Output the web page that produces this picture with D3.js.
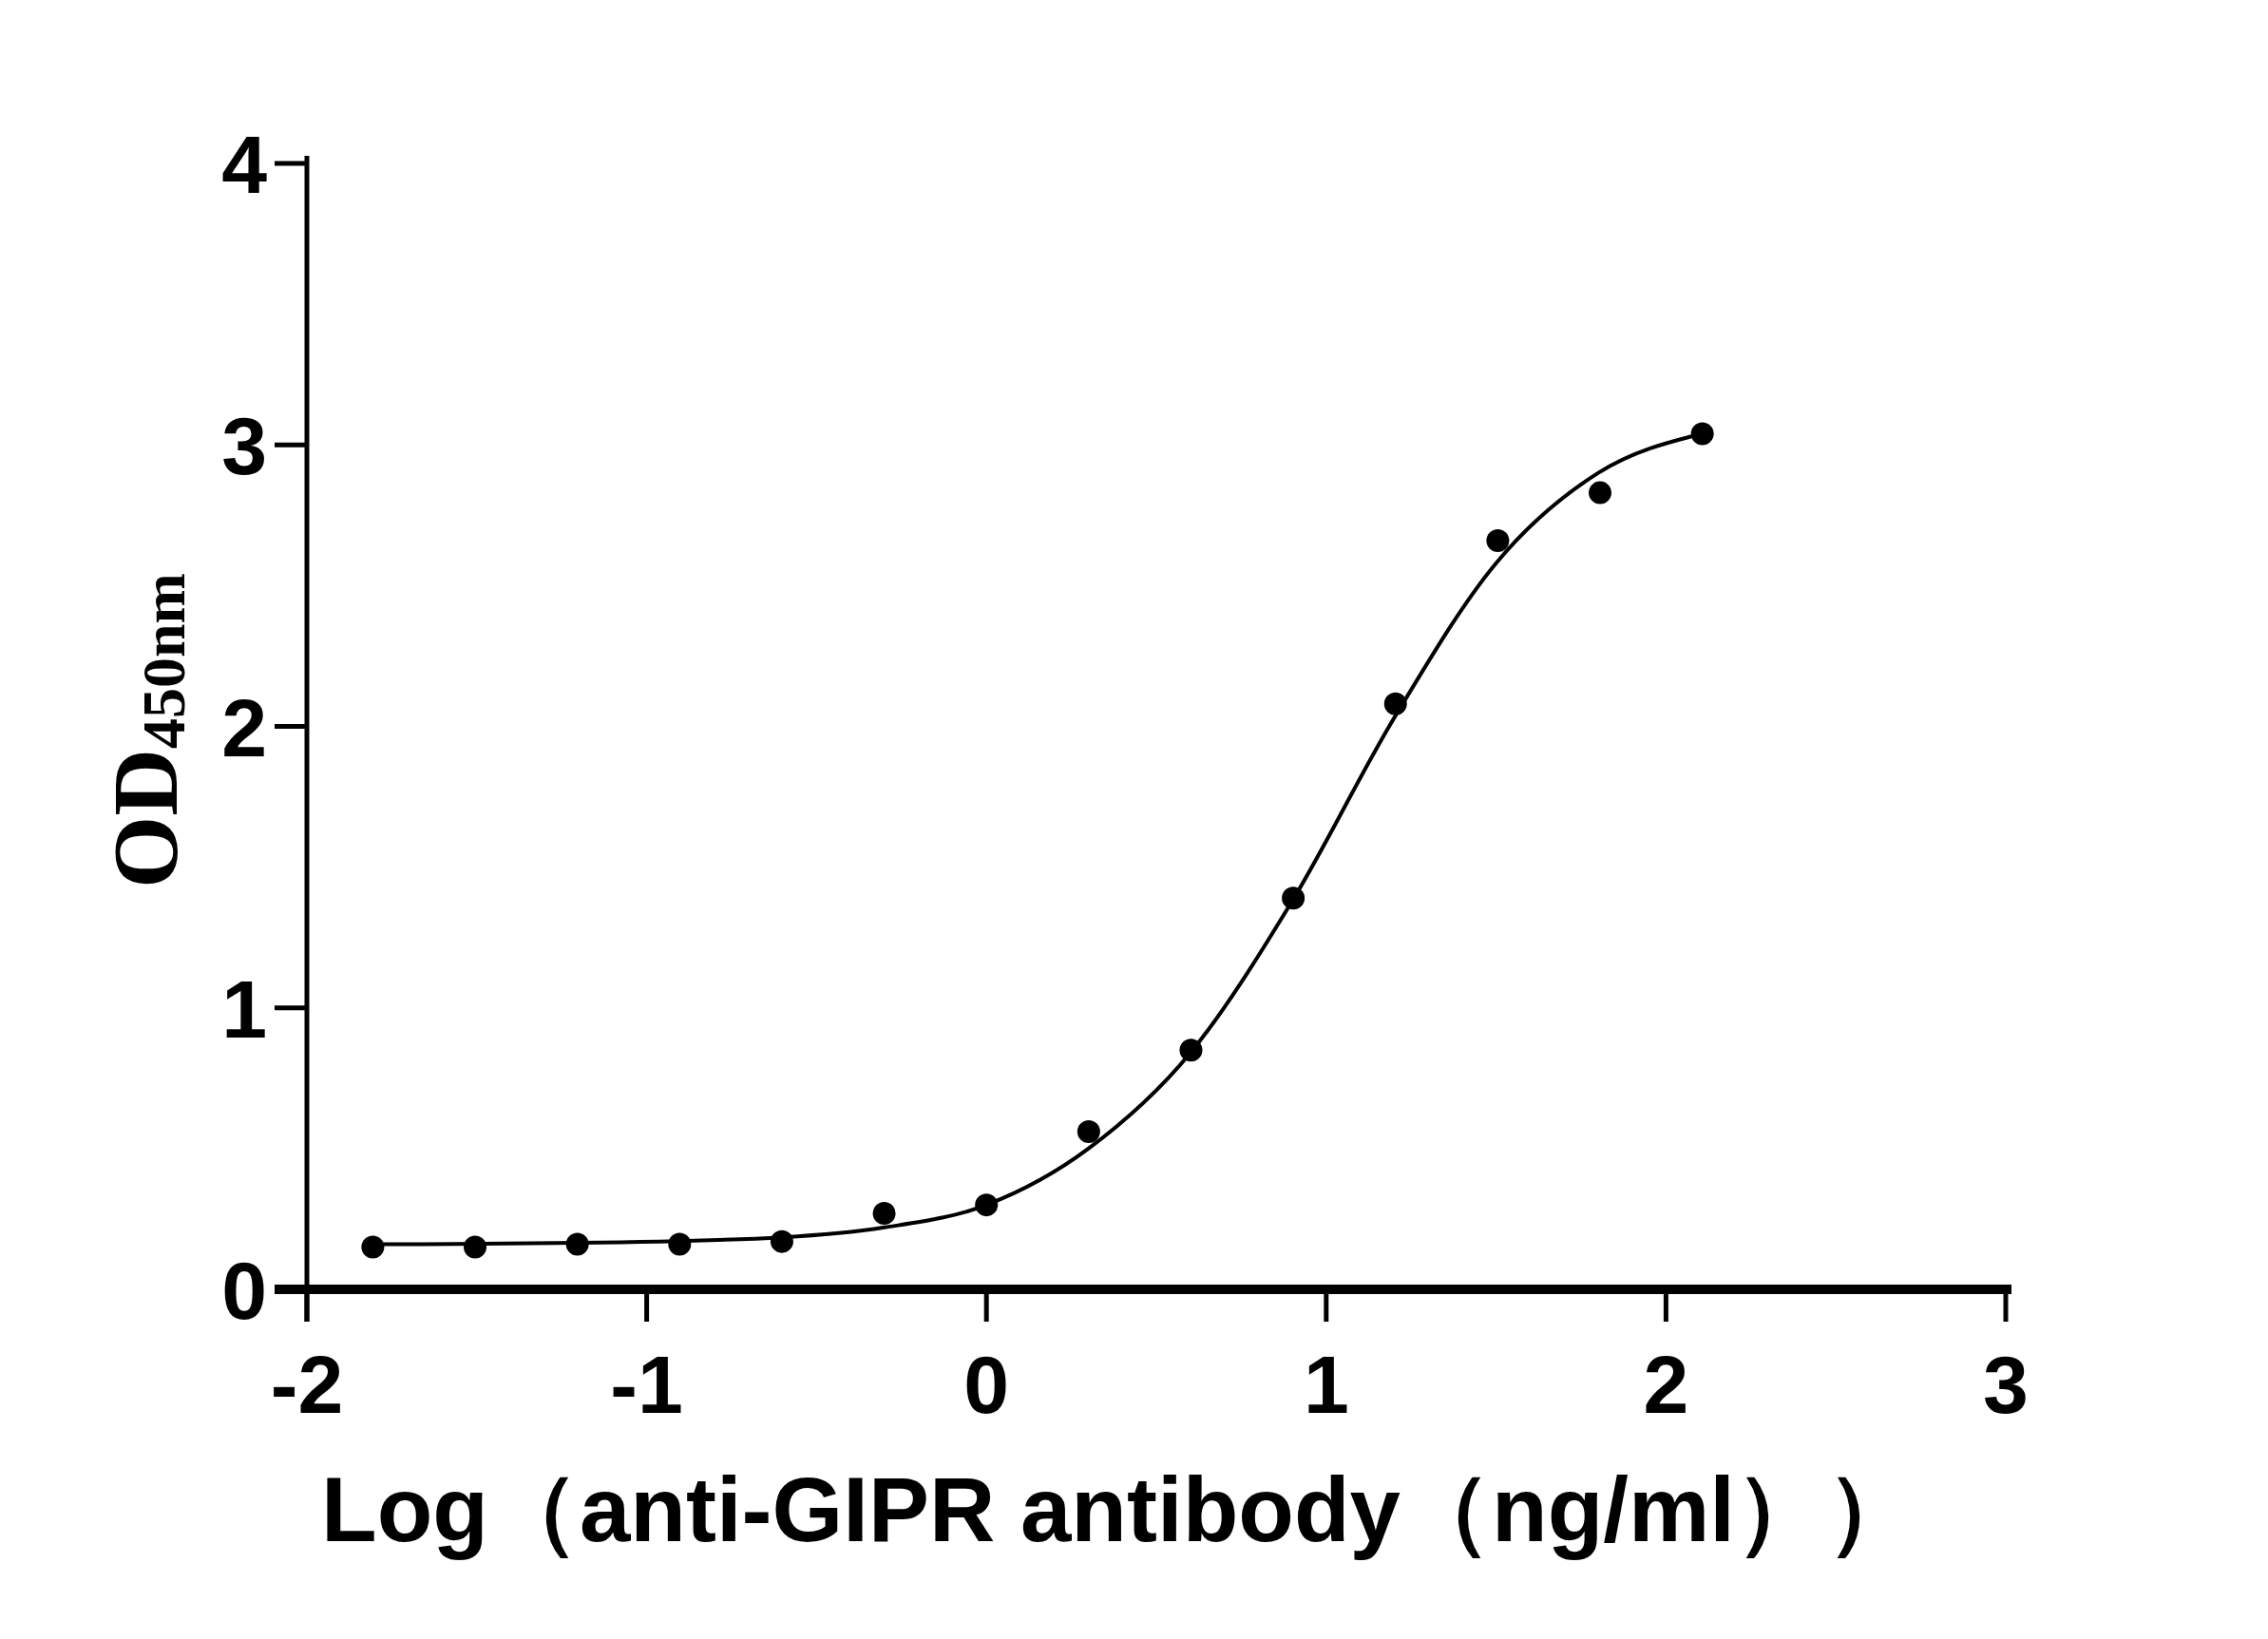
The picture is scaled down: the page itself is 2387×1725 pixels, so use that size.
<!DOCTYPE html><html><head><meta charset="utf-8"><script src="https://cdn.jsdelivr.net/npm/d3@7"></script>
<style>body{margin:0;background:#fff}</style></head><body><svg id="c" width="2387" height="1725"></svg>
<script>
const pointX=[-1.806,-1.505,-1.204,-0.903,-0.602,-0.301,0,0.301,0.602,0.903,1.204,1.505,1.806,2.107];
const pointY=[0.15,0.15,0.16,0.16,0.17,0.27,0.30,0.56,0.85,1.39,2.08,2.66,2.83,3.04];
const curveX=[-1.806,-1.2,-0.6,-0.3,0,0.3,0.6,0.9,1.2,1.5,1.8,2.107];
const curveY=[0.16,0.165,0.185,0.22,0.30,0.50,0.84,1.38,2.03,2.58,2.90,3.04];
const xTicks=[-2,-1,0,1,2,3], yTicks=[0,1,2,3,4];
const svg=d3.select("#c");
const x=d3.scaleLinear().domain([-2,3]).range([323,2111]);
const y=d3.scaleLinear().domain([0,4]).range([1357,172]);
const f="'Liberation Sans',Arial,sans-serif";
svg.append("line").attr("x1",x(-2)).attr("x2",x(-2)).attr("y1",y(4)-8).attr("y2",y(0)+34).attr("stroke","#000").attr("stroke-width",5);
svg.append("line").attr("x1",290).attr("x2",x(3)+6).attr("y1",y(0)).attr("y2",y(0)).attr("stroke","#000").attr("stroke-width",10);
xTicks.forEach(t=>{svg.append("line").attr("x1",x(t)).attr("x2",x(t)).attr("y1",y(0)).attr("y2",y(0)+34).attr("stroke","#000").attr("stroke-width",5);
 svg.append("text").attr("x",x(t)).attr("y",y(0)+130).attr("text-anchor","middle").attr("font-family",f).attr("font-weight","bold").attr("font-size",86).text(t<0?"-"+(-t):t);});
yTicks.forEach(t=>{svg.append("line").attr("x1",x(-2)-34).attr("x2",x(-2)).attr("y1",y(t)).attr("y2",y(t)).attr("stroke","#000").attr("stroke-width",t==0?10:5);
 svg.append("text").attr("x",x(-2)-42).attr("y",y(t)+31).attr("text-anchor","end").attr("font-family",f).attr("font-weight","bold").attr("font-size",86).text(t);});
svg.append("path").datum(curveX.map((v,i)=>[v,curveY[i]])).attr("fill","none").attr("stroke","#000").attr("stroke-width",4)
 .attr("d",d3.line().x(d=>x(d[0])).y(d=>y(d[1])).curve(d3.curveMonotoneX));
svg.selectAll("circle").data(pointX).enter().append("circle").attr("cx",d=>x(d)).attr("cy",(d,i)=>y(pointY[i])).attr("r",12).attr("fill","#000");
svg.append("text").attr("x",338).attr("y",1622).attr("font-family",f).attr("font-weight","bold").attr("font-size",96)
 .attr("textLength",1680).attr("lengthAdjust","spacingAndGlyphs").text("Log\uFF08anti-GIPR antibody\uFF08ng/ml\uFF09\uFF09");
const yl=svg.append("text").attr("transform","translate(186,935) rotate(-90)").attr("text-anchor","start").attr("font-family","'Liberation Serif','Times New Roman',serif").attr("font-weight","bold");
yl.append("tspan").attr("font-size",98).text("OD");
yl.append("tspan").attr("font-size",64).attr("dy",8).text("450nm");
</script></body></html>
